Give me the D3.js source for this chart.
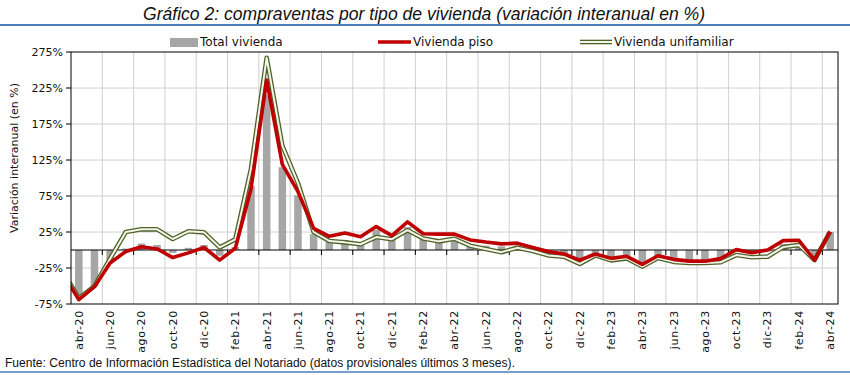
<!DOCTYPE html>
<html><head><meta charset="utf-8">
<script src="https://cdn.jsdelivr.net/npm/d3@7"></script>
<style>
html,body{margin:0;padding:0;background:#fff;}
svg{display:block;}
</style></head>
<body>
<svg id="chart" width="850" height="375"></svg>
<script>
const months = ["abr-20","may-20","jun-20","jul-20","ago-20","sep-20","oct-20","nov-20","dic-20",
  "ene-21","feb-21","mar-21","abr-21","may-21","jun-21","jul-21","ago-21","sep-21","oct-21","nov-21","dic-21",
  "ene-22","feb-22","mar-22","abr-22","may-22","jun-22","jul-22","ago-22","sep-22","oct-22","nov-22","dic-22",
  "ene-23","feb-23","mar-23","abr-23","may-23","jun-23","jul-23","ago-23","sep-23","oct-23","nov-23","dic-23",
  "ene-24","feb-24","mar-24","abr-24"];
const tickLabels = ["abr-20","jun-20","ago-20","oct-20","dic-20","feb-21","abr-21","jun-21","ago-21","oct-21",
  "dic-21","feb-22","abr-22","jun-22","ago-22","oct-22","dic-22","feb-23","abr-23","jun-23","ago-23","oct-23",
  "dic-23","feb-24","abr-24"];
const yTicks = [-75,-25,25,75,125,175,225,275];

// Total vivienda (bars)
const totalVivienda = [-62,-50,-16,2,9,7,-4,3,7,-8,4,89,215,115,76,22,12,14,11,28,16,32,16,15,13,7,6,5,5,1,
  -4,-6,-12,-8,-13,-11,-18,-9,-11,-15,-15,-12,-2,-5,-2,8,9,-12,25];
// Vivienda piso (red line); leading value is mar-20, outside the visible range
const pisoLead = -33;
const viviendaPiso = [-69,-51,-18,-2,4.5,1.5,-10.5,-4,3.5,-14,2.5,85,236,119,81,30,19,23.5,18.5,32.5,20,39,22.5,22,22,
  14,11,8.5,9.5,3.5,-2,-5.6,-14,-5.6,-11.6,-8.8,-20,-8,-13,-15.5,-15.5,-12,0.5,-3.7,0,13,13.5,-14,25.5];
// Vivienda unifamiliar (double line)
const unifLead = -30;
const viviendaUnifamiliar = [-67,-50,-12,25,28.7,28.7,15.3,26,24.5,3.7,14.8,113,267,145,93,25,12.5,10.6,8,18,15,27.5,16,12,15.5,
  6,1.5,-3,3,-1.5,-7.5,-9.3,-19.4,-7.5,-14.4,-11.6,-23,-11,-16.5,-18,-18,-17,-7,-10,-9.3,4,7,-14,25.5];

const svg = d3.select("#chart");
const L = 71, R = 838, T = 52, B = 304;
const pad = 0.52;
const x = d3.scaleBand().domain(months).range([L, R]).paddingInner(pad).paddingOuter(pad/2);
const step = x.step();
const cx = m => x(m) + x.bandwidth()/2;
const y = d3.scaleLinear().domain([-75, 275]).range([B, T]);

const sans = "'DejaVu Sans', Verdana, sans-serif";
const narrow = "'Liberation Sans Narrow','Arial Narrow','Liberation Sans',Arial,sans-serif";

// Title and rules
svg.append("text").attr("x", 424).attr("y", 20).attr("text-anchor","middle")
  .attr("font-family", narrow).attr("font-style","italic").attr("font-size", 18).attr("fill","#111")
  .attr("textLength", 562).attr("lengthAdjust","spacingAndGlyphs")
  .text("Gráfico 2: compraventas por tipo de vivienda (variación interanual en %)");
svg.append("line").attr("x1",0).attr("x2",850).attr("y1",25).attr("y2",25).attr("stroke","#4a7ebb").attr("stroke-width",2);
svg.append("line").attr("x1",0).attr("x2",850).attr("y1",372).attr("y2",372).attr("stroke","#4a7ebb").attr("stroke-width",1.5);

// defs
const defs = svg.append("defs");
defs.append("clipPath").attr("id","plotclip").append("rect")
  .attr("x", L).attr("y", T-10).attr("width", R-L).attr("height", B-T+10);

// Gridlines
const grid = svg.append("g");
grid.selectAll("line.h").data(yTicks.filter(v => v > -75 && v < 275)).join("line")
  .attr("x1", L).attr("x2", R).attr("y1", d => y(d)).attr("y2", d => y(d))
  .attr("stroke", "#d0d0d0").attr("stroke-width", 1);
const vIdx = d3.range(2, months.length, 2);
grid.selectAll("line.v").data(vIdx).join("line")
  .attr("x1", i => x(months[i]) - x.bandwidth()*0 - (step - x.bandwidth())/2)
  .attr("x2", i => x(months[i]) - (step - x.bandwidth())/2)
  .attr("y1", T).attr("y2", B)
  .attr("stroke", "#d0d0d0").attr("stroke-width", 1);

// Bars
svg.append("g").selectAll("rect").data(totalVivienda).join("rect")
  .attr("x", (d,i) => x(months[i]))
  .attr("width", x.bandwidth())
  .attr("y", d => y(Math.max(0, d)))
  .attr("height", d => Math.abs(y(d) - y(0)))
  .attr("fill", "#a6a6a6");

// Zero axis and ticks
svg.append("line").attr("x1", L).attr("x2", R).attr("y1", y(0)).attr("y2", y(0)).attr("stroke","#000").attr("stroke-width",1);
svg.append("g").selectAll("line").data(vIdx).join("line")
  .attr("x1", i => x(months[i]) - (step - x.bandwidth())/2)
  .attr("x2", i => x(months[i]) - (step - x.bandwidth())/2)
  .attr("y1", y(0)).attr("y2", y(0) + 5).attr("stroke","#000").attr("stroke-width",1);

// Lines
const lineGen = d3.line().x(d => d[0]).y(d => y(d[1]));
const pts = (lead, arr) => [[cx(months[0]) - step, lead]].concat(arr.map((v,i) => [cx(months[i]), v]));
const lines = svg.append("g").attr("clip-path","url(#plotclip)");
const unifPts = pts(unifLead, viviendaUnifamiliar);
lines.append("path").attr("d", lineGen(unifPts)).attr("fill","none")
  .attr("stroke","#4f6228").attr("stroke-width",4.6).attr("stroke-linejoin","round");
lines.append("path").attr("d", lineGen(unifPts)).attr("fill","none")
  .attr("stroke","#f3f5ea").attr("stroke-width",2).attr("stroke-linejoin","round");
lines.append("path").attr("d", lineGen(pts(pisoLead, viviendaPiso))).attr("fill","none")
  .attr("stroke","#c00000").attr("stroke-width",3.6).attr("stroke-linejoin","round");

// Plot border
svg.append("rect").attr("x", L).attr("y", T).attr("width", R-L).attr("height", B-T)
  .attr("fill","none").attr("stroke","#000").attr("stroke-width",1);

// Y axis
const yAxis = svg.append("g");
yAxis.selectAll("line").data(yTicks).join("line")
  .attr("x1", L-5).attr("x2", L).attr("y1", d => y(d)).attr("y2", d => y(d)).attr("stroke","#000");
yAxis.selectAll("text").data(yTicks).join("text")
  .attr("x", L-8).attr("y", d => y(d)).attr("dy","0.35em").attr("text-anchor","end")
  .attr("font-family", sans).attr("font-size", 11).attr("fill","#111")
  .text(d => d + "%");
svg.append("text").attr("transform","translate(14,158) rotate(-90)").attr("text-anchor","middle")
  .attr("dy","0.35em").attr("font-family", sans).attr("font-size", 11).attr("fill","#111")
  .text("Variación interanual (en %)");

// X labels
svg.append("g").selectAll("text").data(tickLabels).join("text")
  .attr("transform", d => `translate(${cx(d)},${B+6}) rotate(-90)`)
  .attr("text-anchor","end").attr("dy","0.35em")
  .attr("font-family", sans).attr("font-size", 11).attr("letter-spacing", 0.7).attr("fill","#111")
  .text(d => d);

// Legend
const lg = svg.append("g").attr("font-family", sans).attr("font-size", 12).attr("fill","#111");
lg.append("rect").attr("x",170).attr("y",38).attr("width",28).attr("height",9).attr("fill","#a6a6a6");
lg.append("text").attr("x",200).attr("y",42).attr("dy","0.35em").text("Total vivienda");
lg.append("line").attr("x1",378).attr("x2",411).attr("y1",42).attr("y2",42).attr("stroke","#c00000").attr("stroke-width",3.6);
lg.append("text").attr("x",413).attr("y",42).attr("dy","0.35em").text("Vivienda piso");
lg.append("line").attr("x1",580).attr("x2",612).attr("y1",42).attr("y2",42).attr("stroke","#4f6228").attr("stroke-width",4.6);
lg.append("line").attr("x1",580).attr("x2",612).attr("y1",42).attr("y2",42).attr("stroke","#f3f5ea").attr("stroke-width",2);
lg.append("text").attr("x",614).attr("y",42).attr("dy","0.35em").text("Vivienda unifamiliar");

// Source
svg.append("text").attr("x",5).attr("y",367).attr("font-family", narrow).attr("font-size", 12).attr("fill","#111")
  .attr("textLength", 510).attr("lengthAdjust","spacingAndGlyphs")
  .text("Fuente: Centro de Información Estadística del Notariado (datos provisionales últimos 3 meses).");
</script>
</body></html>
